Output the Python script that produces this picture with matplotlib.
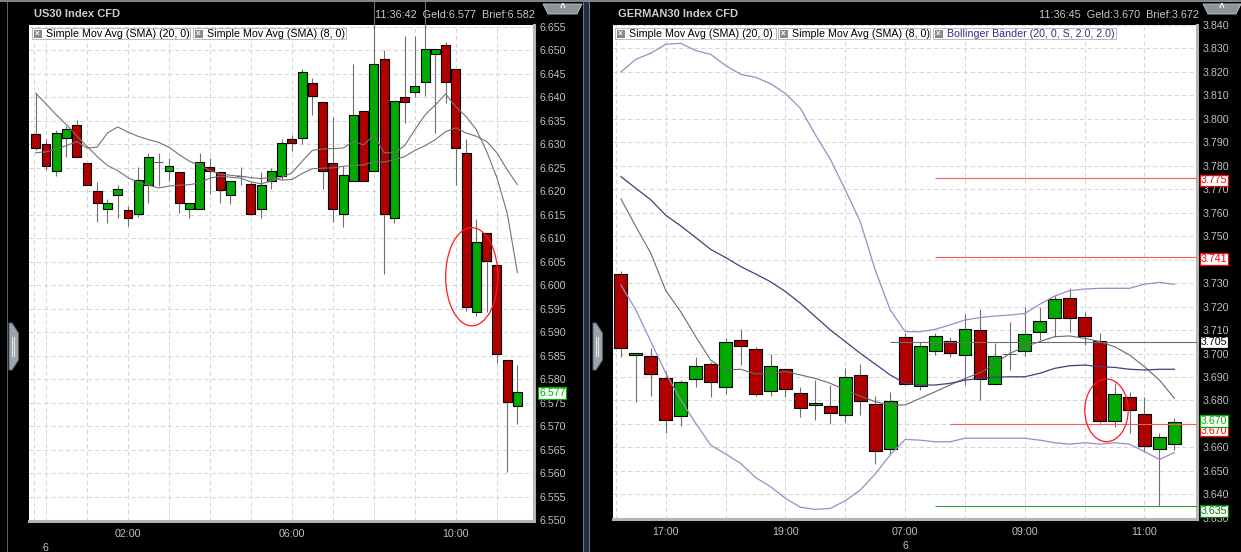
import matplotlib.pyplot as plt
import numpy as np
import pandas as pd
from matplotlib.patches import Ellipse, Rectangle, Polygon

plt.rcParams['font.family'] = ['Liberation Sans', 'DejaVu Sans']

W, H = 1241, 552
RED = '#b00000'
GREEN = '#00aa00'
GRID = '#d6d6d6'
LABEL = '#c0c0c0'

# US30, 15 min candles
us_time = pd.date_range('2014-11-05 23:45', periods=48, freq='15min')
us_open = [6.6322, 6.6301, 6.6243, 6.6313, 6.6341, 6.6260, 6.6201, 6.6163, 6.6193, 6.6161,
           6.6152, 6.6214, 6.6263, 6.6243, 6.6241, 6.6163, 6.6163, 6.6251, 6.6241, 6.6193,
           6.6232, 6.6216, 6.6163, 6.6222, 6.6233, 6.6311, 6.6313, 6.6430, 6.6390, 6.6260,
           6.6152, 6.6221, 6.6371, 6.6243, 6.6481, 6.6144, 6.6401, 6.6412, 6.6432, 6.6492,
           6.6511, 6.6460, 6.6282, 6.5942, 6.6112, 6.6042, 6.5841, 6.5743]
us_close = [6.6292, 6.6254, 6.6324, 6.6332, 6.6273, 6.6214, 6.6174, 6.6174, 6.6204, 6.6144,
            6.6223, 6.6273, 6.6263, 6.6254, 6.6174, 6.6174, 6.6263, 6.6243, 6.6203, 6.6222,
            6.6232, 6.6152, 6.6213, 6.6243, 6.6303, 6.6303, 6.6453, 6.6402, 6.6243, 6.6163,
            6.6234, 6.6362, 6.6221, 6.6472, 6.6152, 6.6392, 6.6391, 6.6424, 6.6502, 6.6502,
            6.6432, 6.6292, 6.5953, 6.6093, 6.6052, 6.5853, 6.5752, 6.5773]
us_high = [6.6409, 6.6311, 6.6331, 6.6340, 6.6351, 6.6260, 6.6220, 6.6183, 6.6213, 6.6168,
           6.6251, 6.6282, 6.6282, 6.6271, 6.6241, 6.6174, 6.6282, 6.6271, 6.6241, 6.6222,
           6.6251, 6.6220, 6.6241, 6.6250, 6.6311, 6.6320, 6.6460, 6.6441, 6.6390, 6.6359,
           6.6253, 6.6470, 6.6371, 6.6607, 6.6501, 6.6392, 6.6530, 6.6530, 6.6607, 6.6502,
           6.6518, 6.6460, 6.6311, 6.6142, 6.6112, 6.6042, 6.5841, 6.5830]
us_low = [6.6288, 6.6245, 6.6232, 6.6272, 6.6273, 6.6214, 6.6135, 6.6133, 6.6144, 6.6126,
          6.6145, 6.6174, 6.6211, 6.6221, 6.6154, 6.6144, 6.6163, 6.6195, 6.6176, 6.6172,
          6.6214, 6.6150, 6.6144, 6.6204, 6.6225, 6.6285, 6.6301, 6.6363, 6.6204, 6.6134,
          6.6123, 6.6221, 6.6221, 6.6243, 6.6024, 6.6133, 6.6345, 6.6400, 6.6402, 6.6324,
          6.6388, 6.6214, 6.5946, 6.5935, 6.5942, 6.5834, 6.5602, 6.5705]
us_sma20 = [6.6282, 6.6284, 6.6290, 6.6297, 6.6306, 6.6292, 6.6294, 6.6324, 6.6337, 6.6326,
            6.6317, 6.6310, 6.6304, 6.6294, 6.6278, 6.6264, 6.6255, 6.6244, 6.6237, 6.6234,
            6.6232, 6.6229, 6.6227, 6.6229, 6.6224, 6.6225, 6.6238, 6.6248, 6.6249, 6.6250,
            6.6253, 6.6255, 6.6256, 6.6264, 6.6262, 6.6267, 6.6274, 6.6287, 6.6297, 6.6310,
            6.6327, 6.6335, 6.6324, 6.6317, 6.6306, 6.6282, 6.6246, 6.6214]
us_sma8 = [6.6409, 6.6386, 6.6363, 6.6342, 6.6318, 6.6296, 6.6274, 6.6255, 6.6244, 6.6229,
           6.6219, 6.6213, 6.6207, 6.6211, 6.6213, 6.6214, 6.6218, 6.6228, 6.6232, 6.6230,
           6.6228, 6.6220, 6.6216, 6.6222, 6.6230, 6.6239, 6.6264, 6.6287, 6.6290, 6.6291,
           6.6292, 6.6306, 6.6299, 6.6320, 6.6282, 6.6282, 6.6297, 6.6331, 6.6363, 6.6384,
           6.6407, 6.6380, 6.6359, 6.6331, 6.6285, 6.6229, 6.6154, 6.6027]
us_tick_labels = ['02:00', '06:00', '10:00']
us_last = 6.577
us_circle = [42.55, 6.6018, 5.1, 0.0209]   # centre x, centre y, width, height

# GERMAN30, 15 min candles (session gap overnight)
de_time = pd.date_range('2014-11-05 16:15', periods=19, freq='15min').append(
    pd.date_range('2014-11-06 07:00', periods=19, freq='15min'))
de_open = [3.7339, 3.6994, 3.6988, 3.6894, 3.6735, 3.6890, 3.6954, 3.6859, 3.7056, 3.7018,
           3.6839, 3.6935, 3.6833, 3.6779, 3.6775, 3.6737, 3.6907, 3.6783, 3.6592, 3.7069,
           3.6860, 3.7011, 3.7055, 3.6992, 3.7099, 3.6870, 3.7000, 3.7011, 3.7092, 3.7150,
           3.7238, 3.7157, 3.7055, 3.6714, 3.6813, 3.6741, 3.6592, 3.6614]
de_close = [3.7022, 3.7002, 3.6911, 3.6715, 3.6877, 3.6948, 3.6877, 3.7051, 3.7031, 3.6826,
            3.6948, 3.6847, 3.6768, 3.6788, 3.6745, 3.6899, 3.6796, 3.6583, 3.6796, 3.6869,
            3.7031, 3.7073, 3.7001, 3.7103, 3.6890, 3.6991, 3.7000, 3.7082, 3.7140, 3.7231,
            3.7150, 3.7075, 3.6714, 3.6826, 3.6758, 3.6605, 3.6643, 3.6707]
de_high = [3.7350, 3.7003, 3.7022, 3.6926, 3.6887, 3.6987, 3.6965, 3.7065, 3.7106, 3.7029,
           3.6998, 3.6940, 3.6859, 3.6887, 3.6866, 3.6940, 3.6954, 3.6820, 3.6835, 3.7089,
           3.7051, 3.7086, 3.7072, 3.7167, 3.7188, 3.7046, 3.7136, 3.7197, 3.7200, 3.7251,
           3.7278, 3.7178, 3.7086, 3.6876, 3.6837, 3.6816, 3.6660, 3.6727]
de_low = [3.6984, 3.6795, 3.6819, 3.6660, 3.6691, 3.6859, 3.6813, 3.6826, 3.6951, 3.6819,
          3.6819, 3.6816, 3.6731, 3.6717, 3.6700, 3.6707, 3.6737, 3.6528, 3.6572, 3.6866,
          3.6845, 3.6992, 3.6987, 3.6866, 3.6802, 3.6866, 3.6930, 3.6989, 3.7058, 3.7072,
          3.7093, 3.7036, 3.6705, 3.6685, 3.6660, 3.6582, 3.6350, 3.6589]
de_sma8 = [3.7659, 3.7541, 3.7427, 3.7268, 3.7178, 3.7072, 3.6972, 3.6930, 3.6933, 3.6913,
           3.6916, 3.6923, 3.6909, 3.6894, 3.6873, 3.6845, 3.6819, 3.6795, 3.6781, 3.6781,
           3.6809, 3.6837, 3.6866, 3.6894, 3.6918, 3.6955, 3.7001, 3.7029, 3.7051, 3.7072,
           3.7075, 3.7065, 3.7051, 3.7029, 3.6994, 3.6944, 3.6887, 3.6809]
de_bb_mid = [3.7754, 3.7704, 3.7655, 3.7589, 3.7544, 3.7494, 3.7444, 3.7409, 3.7371, 3.7339,
             3.7306, 3.7264, 3.7214, 3.7157, 3.7100, 3.7051, 3.7001, 3.6955, 3.6909, 3.6873,
             3.6866, 3.6866, 3.6873, 3.6887, 3.6894, 3.6899, 3.6901, 3.6901, 3.6916, 3.6937,
             3.6948, 3.6951, 3.6944, 3.6941, 3.6933, 3.6930, 3.6933, 3.6933]
de_bb_up = [3.8200, 3.8254, 3.8280, 3.8318, 3.8322, 3.8291, 3.8275, 3.8227, 3.8190, 3.8177,
            3.8150, 3.8108, 3.8045, 3.7932, 3.7828, 3.7697, 3.7562, 3.7356, 3.7186, 3.7093,
            3.7093, 3.7103, 3.7122, 3.7143, 3.7153, 3.7160, 3.7164, 3.7171, 3.7210, 3.7245,
            3.7268, 3.7275, 3.7278, 3.7278, 3.7278, 3.7296, 3.7303, 3.7295]
de_bb_lo = [3.7292, 3.7186, 3.7051, 3.6916, 3.6802, 3.6703, 3.6610, 3.6572, 3.6532, 3.6472,
            3.6433, 3.6383, 3.6345, 3.6336, 3.6340, 3.6373, 3.6418, 3.6487, 3.6568, 3.6634,
            3.6631, 3.6624, 3.6624, 3.6639, 3.6639, 3.6639, 3.6639, 3.6639, 3.6631, 3.6620,
            3.6614, 3.6620, 3.6614, 3.6620, 3.6614, 3.6582, 3.6549, 3.6578]
de_tick_labels = ['17:00', '19:00', '07:00', '09:00', '11:00']
de_levels = [3.775, 3.741, 3.705, 3.670, 3.635]
de_level_start = [21, 21, 18, 22, 21]
de_level_colors = ['#ff5a5a', '#ff5a5a', '#6e6e6e', '#ff5a5a', '#3a9a3a']
de_level_labels = ['3.775', '3.741', '3.705', '3.670', '3.635']
de_label_y = [3.7738, 3.7404, 3.7050, 3.6672, 3.6328]
de_label_colors = ['#ff0000', '#ff0000', '#000000', '#ff0000', '#008000']
de_last = 3.670
de_last_y = 3.6714
de_circle = [32.46, 3.6758, 2.9, 0.0267]


def px_axes(fig, x0, y0, x1, y1):
    return fig.add_axes([x0 / W, 1 - y1 / H, (x1 - x0) / W, (y1 - y0) / H])


def candles(ax, o, h, l, c):
    o, h, l, c = map(np.asarray, (o, h, l, c))
    x = np.arange(len(o))
    ax.vlines(x, l, h, color='#6e6e6e', lw=0.8, zorder=2, clip_on=False)
    up = c > o
    dn = c < o
    fl = c == o
    ax.bar(x[up], (c - o)[up], bottom=o[up], width=0.86, color=GREEN,
           edgecolor='black', lw=0.8, zorder=4)
    ax.bar(x[dn], (c - o)[dn], bottom=o[dn], width=0.86, color=RED,
           edgecolor='black', lw=0.8, zorder=4)
    ax.hlines(c[fl], x[fl] - 0.43, x[fl] + 0.43, color='#606060', lw=0.8, zorder=4)


def style(ax, times, labels, ylim, xlim, ystep):
    ax.set_facecolor('white')
    ax.set_xlim(*xlim)
    hours = [i for i, t in enumerate(times) if t.minute == 0]
    lab_idx = [i for i in hours if times[i].strftime('%H:%M') in labels]
    ax.set_xticks(hours, minor=True)
    ax.set_xticks(lab_idx, [times[i].strftime('%H:%M') for i in lab_idx])
    yt = np.arange(np.ceil(ylim[0] / ystep - 0.1) * ystep, ylim[1] + ystep * 0.3, ystep)
    ax.set_yticks(yt, ['%.3f' % v for v in yt])
    ax.set_ylim(*ylim)
    ax.yaxis.tick_right()
    ax.grid(True, which='both', color=GRID, lw=0.75, linestyle=(0, (4, 3)), zorder=0)
    ax.set_axisbelow(True)
    ax.tick_params(axis='both', which='both', length=0, labelsize=7.7, labelcolor=LABEL)
    ax.tick_params(axis='y', pad=4.3)
    ax.tick_params(axis='x', pad=5.5)
    for s in ('top', 'left'):
        ax.spines[s].set_visible(False)
    for s in ('bottom', 'right'):
        ax.spines[s].set_color('#b4b4b4')
        ax.spines[s].set_linewidth(2.2)
    # day number under the first candle of the new day
    first = [i for i, t in enumerate(times) if t.day == 6][0]
    ax.annotate(str(times[first].day), xy=(first, 0), xycoords=('data', 'axes fraction'),
                xytext=(0, -19.5), textcoords='offset points', ha='center', va='center',
                fontsize=7.7, color=LABEL)


def price_box(ax, y, text, color, dx=3.0):
    ax.annotate(text, xy=(1, y), xycoords=('axes fraction', 'data'), xytext=(dx, 0),
                textcoords='offset points', ha='left', va='center', fontsize=7.7,
                color=color, zorder=10, annotation_clip=False,
                bbox=dict(boxstyle='square,pad=0.08', fc='white', ec=color, lw=0.9))


fig = plt.figure(figsize=(W / 100, H / 100), dpi=100, facecolor='black')

# ---- left panel
ax1 = px_axes(fig, 29, 25, 534, 521)
candles(ax1, us_open, us_high, us_low, us_close)
x1 = np.arange(len(us_open))
ax1.plot(x1, us_sma20, color='#737373', lw=0.8, zorder=5)
ax1.plot(x1, us_sma8, color='#737373', lw=0.8, zorder=5)
ax1.add_patch(Ellipse(us_circle[:2], us_circle[2], us_circle[3], fill=False,
                      edgecolor='#ff1a1a', lw=0.9, zorder=6))
style(ax1, us_time, us_tick_labels, (6.5498, 6.6554), (-0.65, 48.62), 0.005)
ax1.axvline(-0.12, color=GRID, lw=0.75, linestyle=(0, (4, 3)), zorder=0)
price_box(ax1, us_last, '%.3f' % us_last, '#00b000', dx=3.6)

# ---- right panel
ax2 = px_axes(fig, 613, 25, 1197, 519)
candles(ax2, de_open, de_high, de_low, de_close)
x2 = np.arange(len(de_open))
ax2.plot(x2, de_bb_up, color='#9c8ac6', lw=0.9, zorder=5)
ax2.plot(x2, de_bb_lo, color='#9c8ac6', lw=0.9, zorder=5)
ax2.plot(x2, de_sma8, color='#6a6a6a', lw=0.8, zorder=5)
ax2.plot(x2, de_bb_mid, color='#4a3a7c', lw=0.9, zorder=5)
ax2.add_patch(Ellipse(de_circle[:2], de_circle[2], de_circle[3], fill=False,
                      edgecolor='#ff1a1a', lw=0.9, zorder=6))
style(ax2, de_time, de_tick_labels, (3.6295, 3.840), (-0.53, 38.51), 0.010)
for lvl, st, col in zip(de_levels, de_level_start, de_level_colors):
    ax2.hlines(lvl, st, ax2.get_xlim()[1], color=col, lw=0.8, zorder=5)
ax2.axvline(-0.36, color=GRID, lw=0.75, linestyle=(0, (4, 3)), zorder=0)
for y, t, col in zip(de_label_y, de_level_labels, de_label_colors):
    price_box(ax2, y, t, col, dx=2.9)
price_box(ax2, de_last_y, '%.3f' % de_last, '#00b000', dx=2.9)

# ---- window chrome, legends and titles (pixel coordinates)
ov = fig.add_axes([0, 0, 1, 1], zorder=20)
ov.set_xlim(0, W)
ov.set_ylim(H, 0)
ov.axis('off')
ov.patch.set_alpha(0)

ov.add_patch(Rectangle((0, 0), W, 2, fc='#7d848c', ec='none'))
ov.add_patch(Rectangle((6.5, 2), 1.5, H, fc='#56606c', ec='none'))
ov.add_patch(Rectangle((583, 2), 6, H, fc='#223044', ec='none'))
ov.add_patch(Rectangle((583, 2), 1, H, fc='#6d7888', ec='none'))
ov.add_patch(Rectangle((588.5, 2), 1, H, fc='#6d7888', ec='none'))

for hx in (9, 593):
    ov.add_patch(Polygon([(hx, 323), (hx + 3, 323), (hx + 9.5, 333), (hx + 9.5, 360),
                          (hx + 3, 370), (hx, 370)], closed=True, fc='#9ea4ac',
                         ec='#5c636b', lw=0.7))
    ov.add_patch(Rectangle((hx + 2.5, 337), 1.2, 20, fc='#e8e8e8', ec='none'))
    ov.add_patch(Rectangle((hx + 5, 337), 1.2, 20, fc='#e8e8e8', ec='none'))

for tx0, tx1 in ((543, 582), (1203, 1241)):
    ov.add_patch(Polygon([(tx0, 4), (tx1, 4), (tx1 - 5, 14), (tx0 + 5, 14)], closed=True,
                         fc='#8e949b', ec='#c3c7cc', lw=0.6))
    ov.text((tx0 + tx1) / 2, 8.5, '^', color='white', fontsize=7, ha='center',
            va='center', fontweight='bold')

ov.text(34, 14, 'US30 Index CFD', color='#cfcfcf', fontsize=8, fontweight='bold',
        ha='left', va='center')
ov.text(535, 15, '11:36:42  Geld:6.577  Brief:6.582', color='#c8c8c8', fontsize=7.8,
        ha='right', va='center')
ov.text(618, 14, 'GERMAN30 Index CFD', color='#cfcfcf', fontsize=8, fontweight='bold',
        ha='left', va='center')
ov.text(1199, 15, '11:36:45  Geld:3.670  Brief:3.672', color='#c8c8c8', fontsize=7.8,
        ha='right', va='center')

legend_items = [
    (32, 190, 'Simple Mov Avg (SMA) (20, 0)', 'black'),
    (193, 346, 'Simple Mov Avg (SMA) (8, 0)', 'black'),
    (615, 776, 'Simple Mov Avg (SMA) (20, 0)', 'black'),
    (778, 930, 'Simple Mov Avg (SMA) (8, 0)', 'black'),
    (933, 1116, 'Bollinger Bänder (20, 0, S, 2.0, 2.0)', '#3b2a85'),
]
for lx0, lx1, txt, col in legend_items:
    ov.add_patch(Rectangle((lx0, 28), lx1 - lx0, 11, fc='white', ec='#b8b8b8', lw=0.7))
    ov.add_patch(Rectangle((lx0 + 1.5, 29.5), 8, 8, fc='#8a8a8a', ec='none'))
    ov.text(lx0 + 5.5, 33.7, 'x', color='white', fontsize=6, fontweight='bold',
            ha='center', va='center')
    ov.text(lx0 + 14, 33.7, txt, color=col, fontsize=7.7, ha='left', va='center')

fig.savefig('out.png', dpi=100, facecolor='black')
